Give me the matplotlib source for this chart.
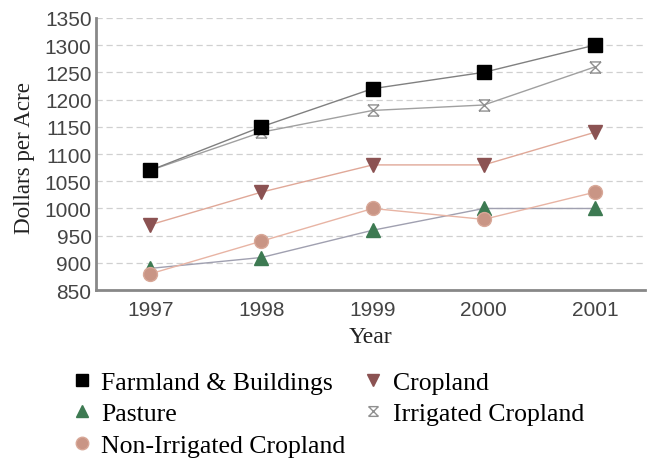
import matplotlib
matplotlib.use("Agg")
import matplotlib.pyplot as plt
from matplotlib.path import Path
from matplotlib.lines import Line2D

years = [1997, 1998, 1999, 2000, 2001]
farmland = [1070, 1150, 1220, 1250, 1300]
irrigated = [1070, 1140, 1180, 1190, 1260]
cropland = [970, 1030, 1080, 1080, 1140]
pasture = [890, 910, 960, 1000, 1000]
non_irrigated = [880, 940, 1000, 980, 1030]
yticks = [850, 900, 950, 1000, 1050, 1100, 1150, 1200, 1250, 1300, 1350]

serif = "Liberation Serif"
sans = "Liberation Sans"

# hourglass-ish marker for irrigated cropland
hg = Path([(-1, 1), (1, 1), (-1, -1), (1, -1), (-1, 1), (1, -1), (-1, -1), (1, 1)],
          [Path.MOVETO, Path.LINETO, Path.MOVETO, Path.LINETO,
           Path.MOVETO, Path.LINETO, Path.MOVETO, Path.LINETO])

fig = plt.figure(figsize=(6.47, 4.6), dpi=100)
ax = fig.add_axes([0.148, 0.367, 0.849, 0.592])

ax.plot(years, irrigated, color="#a0a0a0", lw=1, marker=hg, ms=8,
        mec="#909090", mfc="none", mew=1, zorder=3)
ax.plot(years, farmland, color="#808080", lw=1, marker="s", ms=10,
        mfc="black", mec="black", zorder=4)
ax.plot(years, cropland, color="#e0a898", lw=1, marker="v", ms=10,
        mfc="#8b5252", mec="#8b5252", zorder=3)
ax.plot(years, pasture, color="#a0a0b0", lw=1, marker="^", ms=10,
        mfc="#3d7a52", mec="#3d7a52", zorder=3)
ax.plot(years, non_irrigated, color="#e8b4a4", lw=1, marker="o", ms=10,
        mfc="#c99585", mec="#d8a898", zorder=3)

ax.set_xlim(1996.51, 2001.45)
ax.set_ylim(850, 1350)
ax.set_xticks(years)
ax.set_yticks(yticks)
ax.tick_params(length=0, labelsize=15, labelcolor="#444444")
ax.tick_params(axis="x", pad=7)
ax.tick_params(axis="y", pad=3)
for lab in ax.get_xticklabels() + ax.get_yticklabels():
    lab.set_fontfamily(sans)
ax.yaxis.grid(True, ls=(0, (5, 3)), color="#d0d0d0", lw=0.9)
ax.set_axisbelow(True)
for s in ["top", "right"]:
    ax.spines[s].set_visible(False)
for s in ["left", "bottom"]:
    ax.spines[s].set_color("#888888")
    ax.spines[s].set_linewidth(2)

ax.set_xlabel("Year", family=serif, fontsize=17, color="#222222", labelpad=5)
ax.set_ylabel("Dollars per Acre", family=serif, fontsize=16.6, color="#222222")
ax.yaxis.set_label_coords(-0.11, 0.49)

handles = [
    Line2D([], [], ls="none", marker="s", ms=9, mfc="black", mec="black"),
    Line2D([], [], ls="none", marker="^", ms=9, mfc="#3d7a52", mec="#3d7a52"),
    Line2D([], [], ls="none", marker="o", ms=9, mfc="#c99585", mec="#d8a898"),
    Line2D([], [], ls="none", marker="v", ms=9, mfc="#8b5252", mec="#8b5252"),
    Line2D([], [], ls="none", marker=hg, ms=7, mfc="none", mec="#909090", mew=1),
]
labels = ["Farmland & Buildings", "Pasture", "Non-Irrigated Cropland",
          "Cropland", "Irrigated Cropland"]
fig.legend(handles, labels, ncol=2, loc="upper left", bbox_to_anchor=(0.113, 0.191),
           frameon=False, prop={"family": serif, "size": 18.5},
           handlelength=0.7, handletextpad=0.4, labelspacing=0.32, columnspacing=0.73,
           borderaxespad=0, borderpad=0)

fig.savefig("out.png", dpi=100)
